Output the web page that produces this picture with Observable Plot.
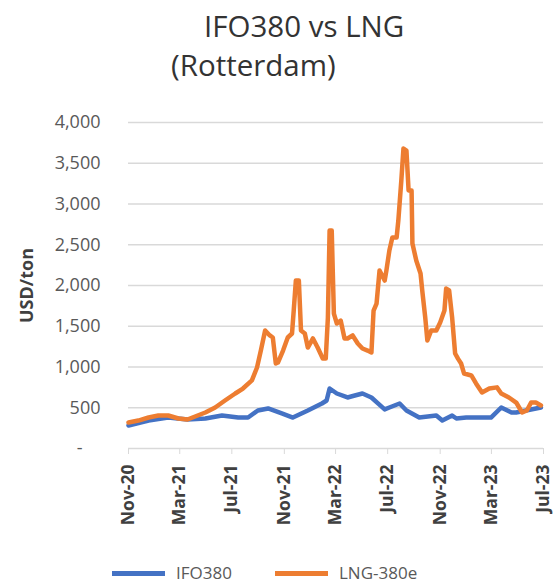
<!DOCTYPE html>
<html>
<head>
<meta charset="utf-8">
<script src="https://cdn.jsdelivr.net/npm/d3@7"></script>
<script src="https://cdn.jsdelivr.net/npm/@observablehq/plot@0.6"></script>
<style>
  html, body { margin: 0; padding: 0; background: #fff; }
  #wrap { position: relative; width: 554px; height: 585px; overflow: hidden; font-family: "Open Sans", sans-serif; }
  .title { position: absolute; color: #333; font-size: 29.5px; white-space: nowrap; line-height: 1; }
  .legend { position: absolute; top: 563px; left: 0; width: 554px; height: 20px; font-size: 17px; line-height: 20px; color: #595959; }
  .item { position: absolute; top: 0; height: 20px; display: flex; align-items: center; white-space: nowrap; }
  .sw { display: inline-block; width: 53px; height: 5px; margin-right: 11px; }
</style>
</head>
<body>
<div id="wrap">
  <div class="title" style="left:204px; top:11px;">IFO380 vs LNG</div>
  <div class="title" style="left:171px; top:50px;">(Rotterdam)</div>
  <div id="chart"></div>
  <div class="legend">
    <div class="item" style="left:112px;"><span class="sw" style="background:#4472C4"></span>IFO380</div>
    <div class="item" style="left:275px;"><span class="sw" style="background:#ED7D31"></span>LNG-380e</div>
  </div>
</div>
<script>
// LNG-380e (USD/ton)
const lngDates = ["2020-11-01","2020-11-24","2020-12-18","2021-01-10","2021-02-02","2021-02-26","2021-03-19","2021-04-06","2021-04-30","2021-05-23","2021-06-15","2021-07-09","2021-07-27","2021-08-17","2021-08-29","2021-09-07","2021-09-17","2021-09-28","2021-10-05","2021-10-12","2021-10-17","2021-10-29","2021-11-09","2021-11-19","2021-11-23","2021-11-28","2021-12-05","2021-12-10","2021-12-19","2021-12-26","2022-01-07","2022-01-18","2022-01-30","2022-02-06","2022-02-11","2022-02-15","2022-02-20","2022-02-25","2022-03-04","2022-03-13","2022-03-22","2022-03-29","2022-04-10","2022-04-22","2022-05-03","2022-05-15","2022-05-24","2022-05-29","2022-06-05","2022-06-12","2022-06-24","2022-06-28","2022-07-05","2022-07-12","2022-07-22","2022-07-26","2022-08-02","2022-08-07","2022-08-14","2022-08-19","2022-08-26","2022-08-28","2022-09-06","2022-09-16","2022-09-20","2022-09-27","2022-10-02","2022-10-11","2022-10-23","2022-11-01","2022-11-11","2022-11-15","2022-11-22","2022-11-29","2022-12-06","2022-12-13","2022-12-20","2022-12-27","2023-01-13","2023-01-24","2023-02-07","2023-02-24","2023-03-14","2023-03-24","2023-04-11","2023-04-28","2023-05-12","2023-05-23","2023-06-02","2023-06-13","2023-06-25"];
const lngValues = [319,343,380,405,405,368,356,393,442,503,589,675,736,835,994,1202,1448,1387,1362,1043,1055,1202,1362,1411,1693,2061,2061,1448,1411,1239,1350,1239,1104,1104,1607,2675,2675,1656,1534,1570,1350,1350,1387,1288,1227,1202,1178,1693,1779,2184,2061,2184,2429,2589,2589,2797,3288,3681,3656,3166,3166,2515,2307,2147,1939,1607,1325,1448,1448,1546,1693,1963,1939,1607,1166,1100,1043,920,896,798,687,736,750,675,626,564,442,466,564,564,528];

// IFO380 (USD/ton)
const ifoDates = ["2020-11-01","2020-12-18","2021-02-02","2021-03-19","2021-04-30","2021-06-08","2021-07-16","2021-08-08","2021-08-31","2021-09-24","2021-10-26","2021-11-21","2021-12-26","2022-01-28","2022-02-08","2022-02-15","2022-03-04","2022-03-29","2022-04-15","2022-05-03","2022-05-24","2022-06-07","2022-06-24","2022-07-05","2022-07-29","2022-08-14","2022-09-13","2022-10-23","2022-11-06","2022-11-29","2022-12-09","2023-01-01","2023-01-31","2023-02-28","2023-03-24","2023-04-17","2023-04-28","2023-05-21","2023-06-25"];
const ifoValues = [282,343,380,356,368,405,380,380,466,491,430,380,466,552,589,736,675,626,650,675,626,560,480,503,552,466,380,405,343,405,368,380,380,380,503,442,442,466,503];

// Axis ticks
const xTickDates = ["2020-11-01","2021-03-01","2021-07-01","2021-11-01","2022-03-01","2022-07-01","2022-11-01","2023-03-01","2023-07-01"];
const yTicks = [0,500,1000,1500,2000,2500,3000,3500,4000];

const parse = d3.utcParse("%Y-%m-%d");
const lng = lngDates.map((d, i) => ({date: parse(d), value: lngValues[i]}));
const ifo = ifoDates.map((d, i) => ({date: parse(d), value: ifoValues[i]}));
const xTicks = xTickDates.map(parse);
const fmtX = d3.utcFormat("%b-%y");
const fmtY = d => d === 0 ? "-\u2002\u2002" : d3.format(",")(d);

const chart = Plot.plot({
  width: 554,
  height: 585,
  marginTop: 122,
  marginBottom: 137,
  marginLeft: 128,
  marginRight: 11,
  style: {fontFamily: "Open Sans, sans-serif", fontSize: "18px", color: "#595959", background: "transparent"},
  x: {type: "utc", domain: [parse("2020-11-01"), parse("2023-07-01")]},
  y: {domain: [0, 4000]},
  marks: [
    Plot.gridY(yTicks.filter(d => d > 0), {stroke: "#d9d9d9", strokeOpacity: 1, strokeWidth: 1.5}),
    Plot.ruleY([0], {stroke: "#d9d9d9", strokeWidth: 1.5}),
    Plot.axisY(yTicks, {tickSize: 0, tickPadding: 28, tickFormat: fmtY, fill: "#595959",
      label: "USD/ton", labelAnchor: "center", labelArrow: "none", labelOffset: 108}),
    Plot.axisX(xTicks, {tickSize: 6, tickPadding: 10, tickRotate: -90, tickFormat: fmtX, stroke: "#d9d9d9", fill: "#404040", label: null, fontWeight: "bold", fontSize: 17.5}),
    Plot.line(ifo, {x: "date", y: "value", stroke: "#4472C4", strokeWidth: 4.5}),
    Plot.line(lng, {x: "date", y: "value", stroke: "#ED7D31", strokeWidth: 4.5})
  ]
});
document.getElementById("chart").appendChild(chart);
d3.select(chart).selectAll('[aria-label="y-axis label"] text').attr("font-weight", "bold").attr("fill", "#404040");
</script>
</body>
</html>
